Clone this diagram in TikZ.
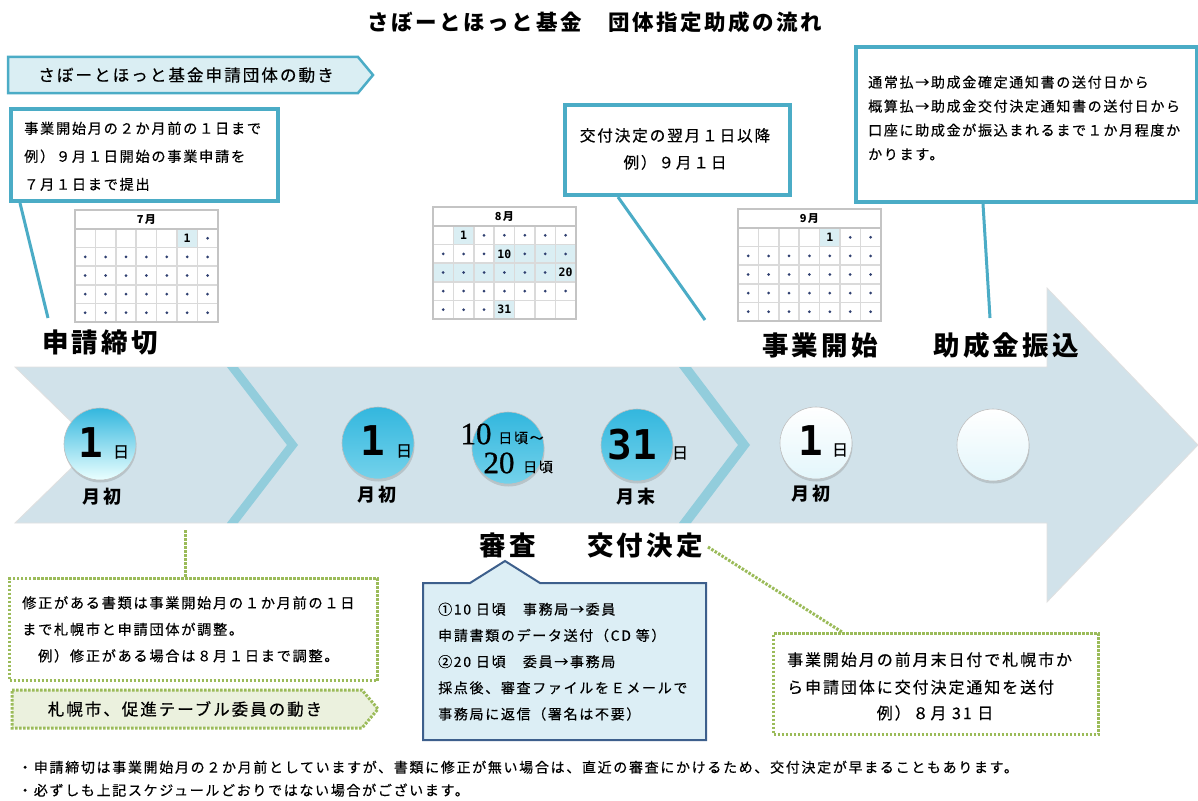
\documentclass[tikz,border=0pt]{standalone}
\usepackage{fontspec}
\setmainfont{Noto Sans CJK JP}[LetterSpace=12]
\newfontfamily\jpm{Noto Sans CJK JP}[LetterSpace=12, FakeBold=0.4]
\newfontfamily\numfont{DejaVu Sans Mono}
\newfontfamily\sernum{Liberation Serif}[FakeBold=0.8]
\usetikzlibrary{shadows}
\definecolor{tealc}{HTML}{4BACC6}
\definecolor{bannerc}{HTML}{DAEEF3}
\definecolor{arrowc}{HTML}{D1E2EA}
\definecolor{chevc}{HTML}{92CDDC}
\definecolor{callc}{HTML}{DCEEF5}
\definecolor{callb}{HTML}{3D5F8C}
\definecolor{greenc}{HTML}{9BBB59}
\definecolor{greenf}{HTML}{EBF1DE}
\definecolor{caloutc}{HTML}{C4C4C4}
\definecolor{calcell}{HTML}{DADADA}
\definecolor{calhl}{HTML}{DAEEF3}
\definecolor{dotc}{HTML}{2F3F70}
\definecolor{cyantop}{HTML}{33B7DE}
\definecolor{cyanbot}{HTML}{74D2EB}
\definecolor{palec}{HTML}{E3F6FB}
\def\cw{20.4}\def\ch{18.6}\def\hh{19}
\newcommand\dcellf[3]{%
  \draw[cellline, fill=#3] ({#1*\cw},{\hh+#2*\ch}) rectangle ({(#1+1)*\cw},{\hh+(#2+1)*\ch});
  \fill[dotc] ({(#1+.5)*\cw},{\hh+(#2+.5)*\ch}) circle (1.5);}
\newcommand\ecell[4]{%
  \draw[cellline, fill=#3] ({#1*\cw},{\hh+#2*\ch}) rectangle ({(#1+1)*\cw},{\hh+(#2+1)*\ch});
  \node[calnum] at ({(#1+.5)*\cw},{\hh+(#2+.5)*\ch}) {#4};}
\newcommand\mycal[4]{%
  \begin{scope}[shift={(#1,#2)}]
    \draw[calframe, fill=white] (0,0) rectangle ({7*\cw},\hh);
    \node[caltitle] at ({3.5*\cw},{\hh/2}) {#3};
    \foreach \ci in {0,...,6}{\foreach \ri in {0,...,4}{\dcellf{\ci}{\ri}{white}}}
    #4
    \draw[calframe] (0,0) rectangle ({7*\cw},{\hh+5*\ch});
    \draw[calframe] (0,\hh) -- ({7*\cw},\hh);
  \end{scope}}
\begin{document}
\begin{tikzpicture}[x=1pt,y=-1pt,
  tbox/.style={draw=tealc, line width=4pt, fill=white, inner sep=0pt},
  tline/.style={draw=tealc, line width=3pt},
  gdot/.style={draw=greenc, line width=3pt, dash pattern=on 2.5pt off 1.5pt},
  gbox/.style={gdot, fill=white, inner sep=0pt},
  txt/.style={inner sep=0pt, align=left, font=\jpm\fontsize{14}{24}\selectfont},
  big/.style={inner sep=0pt, font=\bfseries\fontsize{26.5}{30}\selectfont},
  sub/.style={inner sep=0pt, font=\bfseries\fontsize{18}{20}\selectfont},
  numbig/.style={inner sep=0pt, font=\numfont\bfseries\fontsize{41}{41}\selectfont},
  nichi/.style={inner sep=0pt, font=\jpm\fontsize{16}{16}\selectfont},
  cellline/.style={draw=calcell, line width=1.5pt},
  calframe/.style={draw=caloutc, line width=2.5pt},
  caltitle/.style={inner sep=0pt, font=\bfseries\fontsize{11}{11}\selectfont},
  calnum/.style={inner sep=0pt, font=\numfont\bfseries\fontsize{11.5}{11}\selectfont},
  disc/.style={circle, minimum size=72pt, inner sep=0pt, draw=black!25, line width=0.6pt,
    drop shadow={opacity=0.3, shadow xshift=0.5pt, shadow yshift=-2.5pt}},
  discA/.style={disc, top color=cyantop, bottom color=white!92!cyan},
  discB/.style={disc, top color=cyantop, bottom color=cyanbot},
  discC/.style={disc, top color=white, bottom color=palec},
]
\fill[white] (0,0) rectangle (1198,800);
\useasboundingbox (0,0) rectangle (1198,800);

% title
\node[inner sep=0pt, font=\bfseries\fontsize{21.5}{24}\selectfont] (title) at (595,22) {さぼーとほっと基金　団体指定助成の流れ};

% top banner
\draw[draw=tealc, line width=2.5pt, fill=bannerc] (8,57) -- (358,57) -- (373,75) -- (358,93) -- (8,93) -- cycle;
\node[inner sep=0pt, font=\jpm\fontsize{16.6}{18}\selectfont] (ban1) at (186,75) {さぼーとほっと基金申請団体の動き};

% big arrow
\fill[arrowc, draw=black!12, line width=0.8pt] (15,367) -- (1047,367) -- (1047,288) -- (1198,445) -- (1047,602) -- (1047,523) -- (15,523) -- (95,445) -- cycle;
\fill[chevc] (227,367) -- (238,367) -- (298,445) -- (238,523) -- (227,523) -- (287,445) -- cycle;
\fill[chevc] (679,367) -- (691,367) -- (750,445) -- (691,523) -- (679,523) -- (738,445) -- cycle;

% calendars
\mycal{75}{210}{7月}{%
  \foreach \ci in {0,...,4}{\ecell{\ci}{0}{white}{}}
  \ecell{5}{0}{calhl}{1}}
\mycal{433}{207}{8月}{%
  \ecell{0}{0}{white}{}
  \ecell{1}{0}{calhl}{1}
  \ecell{3}{1}{calhl}{10}
  \foreach \ci in {4,5,6}{\dcellf{\ci}{1}{calhl}}
  \foreach \ci in {0,...,5}{\dcellf{\ci}{2}{calhl}}
  \ecell{6}{2}{calhl}{20}
  \ecell{3}{4}{calhl}{31}
  \foreach \ci in {4,5,6}{\ecell{\ci}{4}{white}{}}}
\mycal{738}{209}{9月}{%
  \foreach \ci in {0,...,3}{\ecell{\ci}{0}{white}{}}
  \ecell{4}{0}{calhl}{1}}

% teal boxes and connectors
\node[tbox, anchor=north west, minimum width=267pt, minimum height=92pt] (b1) at (9,107) {};
\node[txt, anchor=north west, font=\jpm\fontsize{14.2}{28}\selectfont] (t1) at (24,121.5) {事業開始月の２か月前の１日まで\\例）９月１日開始の事業申請を\\７月１日まで提出};
\coordinate (p1) at (48,318);
\draw[tline] ([xshift=11pt]b1.south west) -- (p1);

\node[tbox, anchor=north west, minimum width=225pt, minimum height=90pt] (b2) at (563,103) {};
\node[txt, align=center, anchor=north, font=\jpm\fontsize{15.6}{27}\selectfont] (t2) at (675,128) {交付決定の翌月１日以降\\例）９月１日};
\coordinate (p2) at (705,320);
\draw[tline] ([xshift=55pt]b2.south west) -- (p2);

\node[tbox, anchor=north west, minimum width=341pt, minimum height=155pt] (b3) at (854,45) {};
\node[txt, anchor=north west, font=\jpm\fontsize{14}{24}\selectfont] (t3) at (868,75.5) {通常払→助成金確定通知書の送付日から\\概算払→助成金交付決定通知書の送付日から\\口座に助成金が振込まれるまで１か月程度か\\かります。};
\coordinate (p3) at (990,318);
\draw[tline] ([xshift=129pt]b3.south west) -- (p3);

% big labels
\node[big] (l1) at (100,343) {申請締切};
\node[big] (l2) at (820,345) {事業開始};
\node[big] (l3) at (1006,345) {助成金振込};
\node[big] (shinsa) at (508,545) {審査};
\node[big] (kofu) at (645,545) {交付決定};

% discs
\node[discA] (d1) at (100,444) {};
\node[numbig] (n1) at (91,443) {1};
\node[nichi] (j1) at (121,452) {日};
\node[sub] (m1) at (102,497) {月初};

\node[discB] (d2) at (378,443) {};
\node[numbig] (n2) at (373,441) {1};
\node[nichi] (j2) at (404,451) {日};
\node[sub] (m2) at (377,495) {月初};

\node[discB] (d3) at (508,448) {};
\node[inner sep=0pt, font=\sernum\fontsize{31}{31}\selectfont] (n3a) at (476,434) {10};
\node[inner sep=0pt, font=\jpm\fontsize{14}{14}\selectfont] (j3a) at (521,438) {日頃～};
\node[inner sep=0pt, font=\sernum\fontsize{31}{31}\selectfont] (n3b) at (499,463) {20};
\node[inner sep=0pt, font=\jpm\fontsize{14}{14}\selectfont] (j3b) at (538,467) {日頃};

\node[discB] (d4) at (637,445) {};
\node[numbig] (n4) at (632,445) {31};
\node[nichi] (j4) at (680,453) {日};
\node[sub] (m4) at (636,497) {月末};

\node[discC] (d5) at (816,443) {};
\node[numbig] (n5) at (811,441) {1};
\node[nichi] (j5) at (840,450) {日};
\node[sub] (m5) at (811,494) {月初};

\node[discC] (d6) at (993,445) {};

% green dotted box 1
\coordinate (c4) at (185,530);
\node[gbox, anchor=north west, minimum width=368pt, minimum height=102pt] (gb1) at (8,577) {};
\draw[gdot] (c4) -- ([xshift=177pt]gb1.north west);
\node[txt, anchor=north west, font=\jpm\fontsize{14.2}{26.5}\selectfont] (gt1) at (22,596) {修正がある書類は事業開始月の１か月前の１日\\まで札幌市と申請団体が調整。\\　例）修正がある場合は８月１日まで調整。};

% green banner
\draw[gdot, fill=greenf] (12,690) -- (362,690) -- (378,709) -- (362,728) -- (12,728) -- cycle;
\node[inner sep=0pt, font=\jpm\fontsize{16.5}{18}\selectfont] (ban2) at (185,709) {札幌市、促進テーブル委員の動き};

% callout
\draw[draw=callb, line width=2pt, fill=callc] (423,583) -- (470,583) -- (505,561) -- (540,583) -- (706,583) -- (706,740) -- (423,740) -- cycle;
\node[txt, anchor=north west, font=\jpm\fontsize{14}{26.2}\selectfont] (ct) at (438,602.5) {①10 日頃　事務局→委員\\申請書類のデータ送付（CD 等）\\②20 日頃　委員→事務局\\採点後、審査ファイルをＥメールで\\事務局に返信（署名は不要）};

% green dotted box 2
\node[gbox, anchor=north west, minimum width=325pt, minimum height=101pt] (gb2) at (772,632) {};
\draw[gdot] ([xshift=5pt,yshift=-2pt]kofu.east) -- ([xshift=70pt]gb2.north west);
\node[txt, anchor=north west, font=\jpm\fontsize{16}{27.5}\selectfont] (gt2) at (787,652) {事業開始月の前月末日付で札幌市か\\ら申請団体に交付決定通知を送付};
\node[inner sep=0pt, font=\jpm\fontsize{16}{18}\selectfont] (gt3) at (935,713) {例）８月 31 日};

% notes
\node[txt, anchor=north west, font=\jpm\fontsize{14}{23}\selectfont] (notes) at (18,760.5) {・申請締切は事業開始月の２か月前としていますが、書類に修正が無い場合は、直近の審査にかけるため、交付決定が早まることもあります。\\・必ずしも上記スケジュールどおりではない場合がございます。};
\end{tikzpicture}
\end{document}
